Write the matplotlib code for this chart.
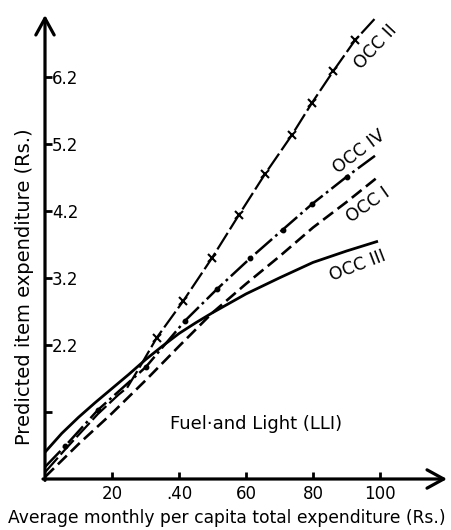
import matplotlib
matplotlib.use('Agg')
import matplotlib.pyplot as plt

plt.rcParams['lines.scale_dashes'] = False

# ---- values ----
x_ticks = [20, 40, 60, 80, 100]
x_ticklabels = ['20', '.40', '60', '80', '100']
y_ticks = [1.2, 2.2, 3.2, 4.2, 5.2, 6.2]
y_ticklabels = ['', '2.2', '3.2', '4.2', '5.2', '6.2']

# OCC I  (dashed)
occ1_x = [0, 10, 20, 30, 40, 50, 60, 70, 80, 90, 99]
occ1_y = [0.23, 0.72, 1.18, 1.67, 2.18, 2.68, 3.11, 3.52, 3.95, 4.33, 4.69]

# OCC II (long dash, crosses)
occ2_x = [0, 6, 15.8, 22, 24.5, 28.4, 33.4, 41.2, 49.9, 57.9, 65.7, 73.7, 79.7, 86.0, 92.5, 99.1]
occ2_y = [0.30, 0.64, 1.17, 1.46, 1.56, 1.88, 2.31, 2.85, 3.50, 4.14, 4.75, 5.33, 5.81, 6.28, 6.74, 7.10]
occ2_marks = [6, 7, 8, 9, 10, 11, 12, 13, 14]

# OCC III (solid)
occ3_x = [0, 5, 10, 15, 20, 25, 30, 35, 40, 45, 50, 60, 70, 80, 90, 99]
occ3_y = [0.60, 0.88, 1.12, 1.34, 1.55, 1.76, 1.98, 2.18, 2.37, 2.53, 2.68, 2.96, 3.20, 3.43, 3.60, 3.74]

# OCC IV (dash-dot)
occ4_x = [0, 6.0, 15.8, 30.1, 41.8, 51.3, 61.2, 71.0, 79.7, 90.1, 98.5]
occ4_y = [0.38, 0.69, 1.23, 1.87, 2.56, 3.03, 3.49, 3.92, 4.30, 4.71, 5.02]
occ4_marks = [1, 2, 3, 4, 5, 6, 7, 8, 9]

fig = plt.figure(figsize=(4.52, 5.30), dpi=100)
ax = fig.add_axes([45 / 452, 51 / 530, 402 / 452, 464 / 530])

ax.plot(occ2_x, occ2_y, color='k', lw=1.6, dashes=(14, 3),
        marker='x', ms=6, mew=1.5, markevery=occ2_marks, clip_on=False)
ax.plot(occ3_x, occ3_y, '-', color='k', lw=2.0)
ax.plot(occ1_x, occ1_y, color='k', lw=1.9, dashes=(9, 4))
ax.plot(occ4_x, occ4_y, color='k', lw=1.8, dashes=(16, 3, 2, 3),
        marker='o', ms=3.2, markevery=occ4_marks)

" curve labels "
ax.text(98.8, 6.65, 'OCC II', rotation=47, ha='center', va='center', fontsize=12.5)
ax.text(93.7, 5.08, 'OCC IV', rotation=37, ha='center', va='center', fontsize=12.5)
ax.text(96.4, 4.29, 'OCC I', rotation=35, ha='center', va='center', fontsize=12.5)
ax.text(93.4, 3.38, 'OCC III', rotation=21, ha='center', va='center', fontsize=12.5)
ax.text(63.0, 1.02, 'Fuel\u00b7and Light (LLI)', ha='center', va='center', fontsize=13)

ax.set_xlim(0, 120)
ax.set_ylim(0.2, 7.12)
for s in ax.spines.values():
    s.set_visible(False)

" axes drawn as arrows "
arrow = dict(arrowstyle='->,head_length=0.6,head_width=0.33', lw=2.3, color='k',
             mutation_scale=20, shrinkA=0, shrinkB=0)
ax.annotate('', xy=(1.0, 0), xytext=(-0.005, 0), xycoords='axes fraction', arrowprops=arrow)
ax.annotate('', xy=(0, 1.0), xytext=(0, -0.003), xycoords='axes fraction', arrowprops=arrow)

ax.set_xticks(x_ticks)
ax.set_xticklabels(x_ticklabels, fontsize=12)
ax.set_yticks(y_ticks)
ax.set_yticklabels(y_ticklabels, fontsize=12)
ax.tick_params(axis='x', direction='in', length=5, width=2, pad=4)
ax.tick_params(axis='y', direction='in', length=5, width=2, pad=-5)
for lbl in ax.get_yticklabels():
    lbl.set_horizontalalignment('left')

ax.set_xlabel('Average monthly per capita total expenditure (Rs.)', fontsize=12.3, va='center')
ax.xaxis.set_label_coords(0.453, -0.084)
ax.set_ylabel('Predicted item expenditure (Rs.)', fontsize=14, va='center')
ax.yaxis.set_label_coords(-0.052, 0.414)

fig.savefig('out.png', dpi=100)
